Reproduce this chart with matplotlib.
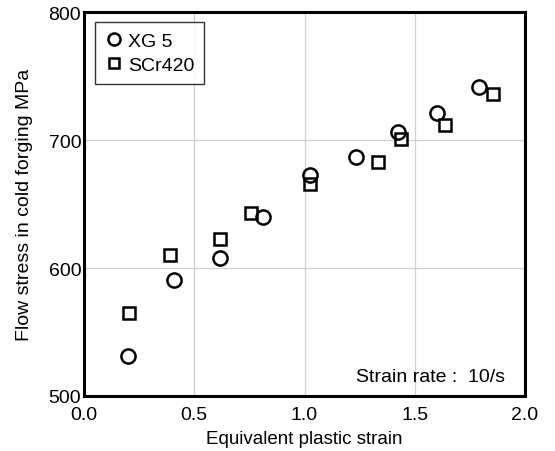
import matplotlib
matplotlib.use("Agg")
import matplotlib.pyplot as plt

plt.rcParams['font.family'] = ['Liberation Sans', 'DejaVu Sans']

# XG 5 (circles)
xg5_strain = [0.198, 0.407, 0.618, 0.813, 1.025, 1.233, 1.422, 1.602, 1.793]
xg5_stress = [531.5, 590.6, 607.6, 639.6, 672.9, 686.7, 706.3, 720.8, 741.2]

# SCr420 (squares)
scr_strain = [0.203, 0.391, 0.618, 0.757, 1.025, 1.332, 1.439, 1.637, 1.856]
scr_stress = [564.8, 610.4, 622.7, 642.7, 665.4, 682.8, 700.5, 712.0, 735.7]

x_ticks = [0.0, 0.5, 1.0, 1.5, 2.0]
y_ticks = [500, 600, 700, 800]

fig = plt.figure(figsize=(5.55, 4.52), dpi=100)
ax = fig.add_axes([0.1514, 0.1217, 0.7946, 0.8495])

ax.plot(scr_strain, scr_stress, linestyle='none', marker='s', markersize=8.6,
        markerfacecolor='white', markeredgecolor='black', markeredgewidth=1.8,
        label='SCr420', zorder=3)
ax.plot(xg5_strain, xg5_stress, linestyle='none', marker='o', markersize=10.2,
        markerfacecolor='none', markeredgecolor='black', markeredgewidth=1.8,
        label='XG 5', zorder=4)

ax.set_xlim(0, 2.0)
ax.set_ylim(500, 800)
ax.set_xticks(x_ticks)
ax.set_yticks(y_ticks)
ax.set_xticklabels(['%.1f' % t for t in x_ticks])
ax.tick_params(axis='both', length=0, labelsize=14)
ax.tick_params(axis='x', pad=7)
ax.tick_params(axis='y', pad=2)
ax.grid(True, color='#d0d0d0', linewidth=0.9)
ax.set_axisbelow(True)
for s in ax.spines.values():
    s.set_linewidth(2.2)

ax.set_xlabel('Equivalent plastic strain', fontsize=13.5, labelpad=5)
ax.set_ylabel('Flow stress in cold forging MPa', fontsize=14, labelpad=11)

handles, labels = ax.get_legend_handles_labels()
leg = ax.legend(handles[::-1], labels[::-1], loc='upper left', fontsize=14,
                frameon=True, fancybox=False, edgecolor='black',
                handletextpad=0.3, handlelength=0.9, borderpad=0.5,
                labelspacing=0.35, markerscale=0.85,
                bbox_to_anchor=(0.025, 0.973), borderaxespad=0)
leg.get_frame().set_linewidth(1.0)

ax.text(0.955, 0.04, 'Strain rate :  10/s', transform=ax.transAxes,
        ha='right', va='baseline', fontsize=14)

fig.savefig('out.png', dpi=100)
